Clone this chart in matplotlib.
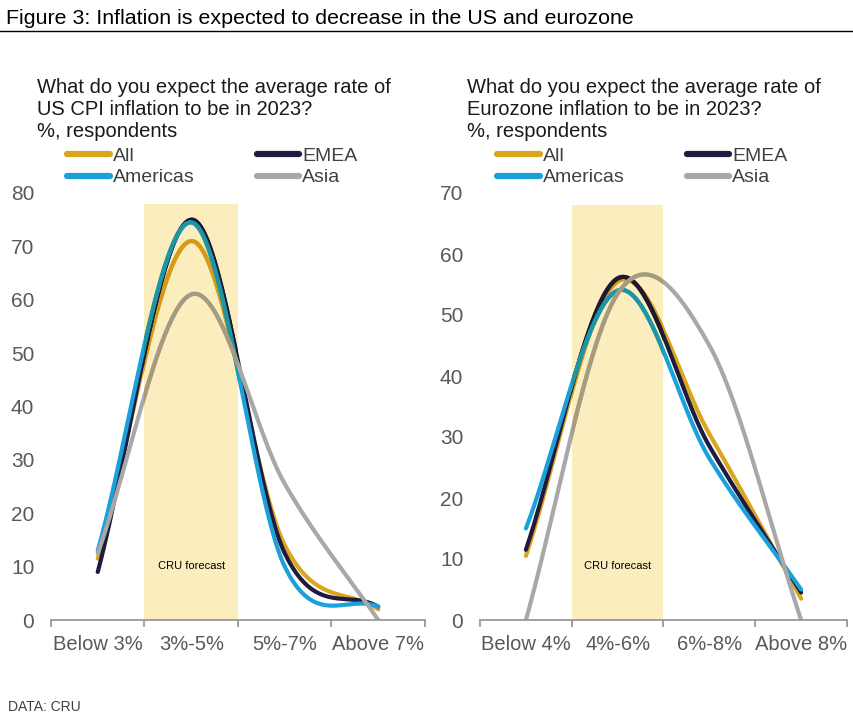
import numpy as np
import matplotlib.pyplot as plt
from matplotlib.colors import to_rgb

plt.rcParams['font.family'] = ['Liberation Sans', 'DejaVu Sans']

us_cats = ['Below 3%', '3%-5%', '5%-7%', 'Above 7%']
eu_cats = ['Below 4%', '4%-6%', '6%-8%', 'Above 8%']
series_names = ['All', 'EMEA', 'Americas', 'Asia']
us_all = [11.5, 71, 14, 2]
us_emea = [9, 75, 12.5, 2.5]
us_americas = [13, 74.5, 10, 2.5]
us_asia = [12.5, 61, 25.5, 0]
eu_all = [10.5, 55.5, 30.5, 3.5]
eu_emea = [11.5, 56, 28.5, 4.5]
eu_americas = [15, 54, 26.5, 5]
eu_asia = [0, 53.5, 45, 0]
colors = ['#D9A61E', '#1E1A40', '#1BA1DA', '#A8A8A8']
span_col = '#FCEDBE'


def smooth(y, n=50):
    # excel-like smoothed line (catmull-rom through the points)
    y = np.asarray(y, float)
    p = np.concatenate([[2 * y[0] - y[1]], y, [2 * y[-1] - y[-2]]])
    t = np.linspace(0, 1, n)
    xs, ys = [], []
    for i in range(len(y) - 1):
        p0, p1, p2, p3 = p[i:i + 4]
        m1, m2 = (p2 - p0) / 2, (p3 - p1) / 2
        h00 = 2 * t**3 - 3 * t**2 + 1
        h10 = t**3 - 2 * t**2 + t
        h01 = -2 * t**3 + 3 * t**2
        h11 = t**3 - t**2
        xs.append(i + t)
        ys.append(h00 * p1 + h10 * m1 + h01 * p2 + h11 * m2)
    return np.concatenate(xs), np.concatenate(ys)


def multiply(c1, c2):
    a, b = np.array(to_rgb(c1)), np.array(to_rgb(c2))
    return tuple(a * b)


fig = plt.figure(figsize=(8.54, 7.19), dpi=100)
W, H = 854, 719

fig.text(6 / W, 1 - 18 / H, 'Figure 3: Inflation is expected to decrease in the US and eurozone',
         fontsize=15.4, va='center', ha='left', color='black')
fig.add_artist(plt.Line2D([0, 1], [1 - 31 / H, 1 - 31 / H], color='black', lw=1))
fig.text(8 / W, 1 - 707 / H, 'DATA: CRU', fontsize=10, va='center', color='#404040')

panels = [
    (51, 374, us_cats, [us_all, us_emea, us_americas, us_asia], 80, 78,
     'What do you expect the average rate of\nUS CPI inflation to be in 2023?\n%, respondents', 37),
    (480, 367, eu_cats, [eu_all, eu_emea, eu_americas, eu_asia], 70, 68,
     'What do you expect the average rate of\nEurozone inflation to be in 2023?\n%, respondents', 467),
]

for left, width, cats, data, ymax, span_h, subtitle, tx in panels:
    ax = fig.add_axes([left / W, (H - 620) / H, width / W, 427 / H])
    ax.set_xlim(-0.5, 3.5)
    ax.set_ylim(0, ymax)
    span = ax.bar(1, span_h, width=1, color=span_col, zorder=1)[0]
    handles = []
    for vals, c, name in zip(data, colors, series_names):
        x, y = smooth(vals)
        ln, = ax.plot(x, y, color=c, lw=3, zorder=2, solid_capstyle='round', label=name)
        ov, = ax.plot(x, y, color=multiply(c, span_col), lw=3, zorder=2, solid_capstyle='round')
        ov.set_clip_path(span)
        handles.append(ln)
    ax.text(1, ymax * 0.1255, 'CRU forecast', fontsize=8, ha='center', va='center', zorder=4)

    for s in ['top', 'right', 'left']:
        ax.spines[s].set_visible(False)
    ax.spines['bottom'].set_color('#999999')
    ax.spines['bottom'].set_linewidth(1.3)
    ax.set_xticks(range(4))
    ax.set_xticklabels(cats, fontsize=14.5, color='#595959')
    ax.set_xticks([-0.5, 0.5, 1.5, 2.5, 3.5], minor=True)
    ax.tick_params(axis='x', which='major', length=0, pad=11)
    ax.tick_params(axis='x', which='minor', length=5, color='#999999', width=1.3)
    ax.set_yticks(range(0, ymax + 1, 10))
    ax.tick_params(axis='y', length=0, labelsize=15, labelcolor='#595959', pad=12)

    fig.text(tx / W, 1 - 78 / H, subtitle, fontsize=14.5, va='top', ha='left',
             color='#1a1a1a', linespacing=1.2)

    order = [0, 2, 1, 3]
    leg = fig.legend([handles[i] for i in order], [series_names[i] for i in order],
                     ncol=2, loc='upper left',
                     bbox_to_anchor=((tx + 30) / W, 1 - 147 / H),
                     frameon=False, fontsize=14, handlelength=2.2, handletextpad=0.15,
                     columnspacing=3.2, labelspacing=0.22, borderpad=0, borderaxespad=0,
                     labelcolor='#404040')
    for lh in leg.get_lines():
        lh.set_linewidth(4.5)

fig.savefig('out.png', dpi=100)
